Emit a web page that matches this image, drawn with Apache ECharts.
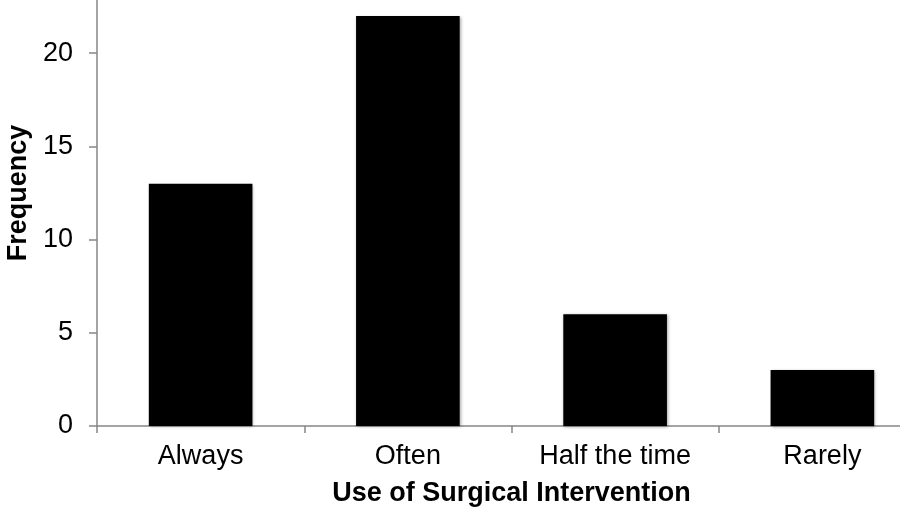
<!DOCTYPE html>
<html>
<head>
<meta charset="utf-8">
<style>
  html, body { margin: 0; padding: 0; background: #fff; }
  #main { width: 900px; height: 515px; }
</style>
<script src="https://cdn.jsdelivr.net/npm/echarts@6/dist/echarts.min.js"></script>
</head>
<body>
<div id="main"></div>
<script>
// chart data
const categories = ['Always', 'Often', 'Half the time', 'Rarely'];
const frequency = [13, 22, 6, 3];
const yTicks = [0, 5, 10, 15, 20, 25];

document.addEventListener('DOMContentLoaded', function () {
    drawChart();
});

function drawChart() {
    let myChart = echarts.init(document.getElementById('main'));

    let axisGray = '#878787';

    let option = {
        animation: false,
        grid: {
            left: 97,
            right: -26,
            top: -40,
            bottom: 89,
            containLabel: false,
            outerBoundsMode: 'none'
        },
        xAxis: {
            type: 'category',
            data: categories,
            name: 'Use of Surgical Intervention',
            nameLocation: 'middle',
            nameGap: 54,
            nameTextStyle: {
                fontFamily: 'Liberation Sans',
                fontSize: 27,
                fontWeight: 'bold',
                color: '#000'
            },
            axisLine: { lineStyle: { color: axisGray, width: 1.5 } },
            axisTick: { show: true, length: 7, lineStyle: { color: axisGray, width: 1.5 } },
            axisLabel: {
                margin: 17,
                fontFamily: 'Liberation Sans',
                fontSize: 27,
                color: '#000'
            }
        },
        yAxis: {
            type: 'value',
            min: yTicks[0],
            max: yTicks[yTicks.length - 1],
            interval: 5,
            name: 'Frequency',
            nameLocation: 'middle',
            nameGap: 65,
            nameTextStyle: {
                fontFamily: 'Liberation Sans',
                fontSize: 27,
                fontWeight: 'bold',
                color: '#000'
            },
            splitLine: { show: false },
            axisLine: { show: true, lineStyle: { color: axisGray, width: 1.5 } },
            axisTick: { show: true, length: 8, lineStyle: { color: axisGray, width: 1.5 } },
            axisLabel: {
                margin: 24,
                fontFamily: 'Liberation Sans',
                fontSize: 27,
                color: '#000'
            }
        },
        series: [
            {
                type: 'bar',
                data: frequency,
                barCategoryGap: '50%',
                itemStyle: {
                    color: '#000',
                    shadowColor: 'rgba(0,0,0,0.35)',
                    shadowBlur: 3,
                    shadowOffsetX: 1,
                    shadowOffsetY: 1
                }
            }
        ]
    };

    myChart.setOption(option);
}
</script>
</body>
</html>
